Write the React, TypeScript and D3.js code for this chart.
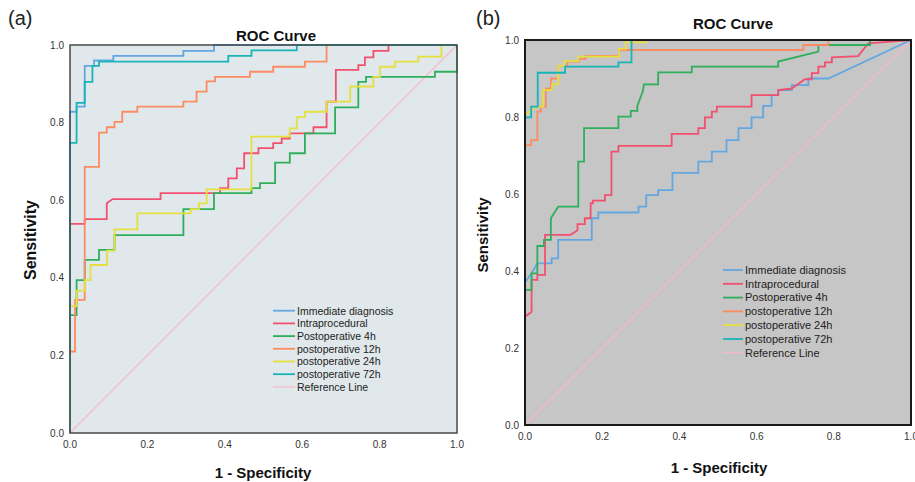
import * as d3 from 'd3'

type Pt = [number, number]

const seriesNames = [
  'Immediate diagnosis',
  'Intraprocedural',
  'Postoperative 4h',
  'postoperative 12h',
  'postoperative 24h',
  'postoperative 72h',
]
const seriesColors = ['#63a7e2', '#f2506f', '#2fae5c', '#fb8c62', '#e4e03e', '#19b4b8']
const refName = 'Reference Line'
const refColor = '#f7b9ca'
const tickValues = [0, 0.2, 0.4, 0.6, 0.8, 1]
const tickLabels = ['0.0', '0.2', '0.4', '0.6', '0.8', '1.0']

// panel (a): [1 - specificity, sensitivity]
const immediateA: Pt[] = [[0, 0], [0, 0.828], [0.017, 0.828], [0.017, 0.841], [0.038, 0.841], [0.038, 0.946], [0.062, 0.946], [0.062, 0.96], [0.112, 0.96], [0.112, 0.972], [0.293, 0.972], [0.293, 0.985], [0.372, 0.985], [0.372, 1], [1, 1]]
const intraA: Pt[] = [[0, 0], [0, 0.539], [0.038, 0.539], [0.038, 0.551], [0.095, 0.551], [0.095, 0.592], [0.11, 0.603], [0.234, 0.603], [0.234, 0.618], [0.388, 0.618], [0.388, 0.631], [0.409, 0.631], [0.409, 0.656], [0.431, 0.656], [0.431, 0.682], [0.45, 0.682], [0.45, 0.721], [0.487, 0.721], [0.487, 0.734], [0.525, 0.734], [0.525, 0.747], [0.547, 0.747], [0.547, 0.759], [0.568, 0.759], [0.568, 0.772], [0.629, 0.772], [0.629, 0.788], [0.663, 0.788], [0.663, 0.854], [0.687, 0.854], [0.687, 0.936], [0.745, 0.936], [0.745, 0.948], [0.762, 0.948], [0.762, 0.968], [0.784, 0.968], [0.784, 0.985], [0.823, 0.985], [0.823, 1], [1, 1]]
const post4A: Pt[] = [[0, 0], [0, 0.304], [0.017, 0.304], [0.017, 0.394], [0.038, 0.394], [0.038, 0.446], [0.075, 0.446], [0.075, 0.472], [0.115, 0.472], [0.115, 0.51], [0.293, 0.51], [0.293, 0.577], [0.372, 0.577], [0.372, 0.618], [0.469, 0.618], [0.469, 0.631], [0.491, 0.631], [0.491, 0.644], [0.53, 0.644], [0.53, 0.697], [0.568, 0.697], [0.568, 0.721], [0.607, 0.721], [0.607, 0.772], [0.685, 0.772], [0.685, 0.839], [0.745, 0.839], [0.745, 0.905], [0.765, 0.905], [0.765, 0.918], [0.943, 0.918], [0.943, 0.931], [1, 0.931], [1, 1]]
const post12A: Pt[] = [[0, 0], [0, 0.21], [0.013, 0.21], [0.013, 0.343], [0.038, 0.343], [0.038, 0.686], [0.075, 0.686], [0.075, 0.774], [0.095, 0.774], [0.095, 0.788], [0.115, 0.788], [0.115, 0.802], [0.135, 0.802], [0.135, 0.828], [0.174, 0.828], [0.174, 0.841], [0.293, 0.841], [0.293, 0.854], [0.327, 0.854], [0.327, 0.88], [0.353, 0.88], [0.353, 0.906], [0.375, 0.906], [0.375, 0.918], [0.465, 0.918], [0.465, 0.931], [0.525, 0.931], [0.525, 0.944], [0.607, 0.944], [0.607, 0.957], [0.663, 0.957], [0.663, 1], [1, 1]]
const post24A: Pt[] = [[0, 0], [0, 0.327], [0.017, 0.327], [0.017, 0.367], [0.038, 0.367], [0.038, 0.394], [0.053, 0.394], [0.053, 0.433], [0.096, 0.433], [0.096, 0.47], [0.115, 0.47], [0.115, 0.525], [0.174, 0.525], [0.174, 0.566], [0.312, 0.566], [0.312, 0.577], [0.333, 0.577], [0.333, 0.592], [0.353, 0.592], [0.353, 0.628], [0.469, 0.628], [0.469, 0.764], [0.568, 0.764], [0.568, 0.785], [0.586, 0.785], [0.586, 0.814], [0.607, 0.814], [0.607, 0.828], [0.663, 0.828], [0.663, 0.854], [0.724, 0.854], [0.724, 0.893], [0.784, 0.893], [0.784, 0.918], [0.801, 0.918], [0.801, 0.944], [0.84, 0.944], [0.84, 0.957], [0.9, 0.957], [0.9, 0.97], [0.96, 0.97], [0.96, 1], [1, 1]]
const post72A: Pt[] = [[0, 0], [0, 0.748], [0.017, 0.748], [0.017, 0.851], [0.038, 0.851], [0.038, 0.905], [0.058, 0.905], [0.058, 0.946], [0.075, 0.946], [0.075, 0.957], [0.409, 0.957], [0.409, 0.972], [0.469, 0.972], [0.469, 0.986], [0.586, 0.986], [0.586, 1], [1, 1]]

// panel (b)
const immediateB: Pt[] = [[0, 0], [0, 0.37], [0.017, 0.394], [0.032, 0.42], [0.069, 0.42], [0.069, 0.433], [0.086, 0.433], [0.086, 0.481], [0.173, 0.481], [0.173, 0.537], [0.19, 0.537], [0.19, 0.552], [0.294, 0.552], [0.294, 0.567], [0.314, 0.567], [0.314, 0.597], [0.345, 0.597], [0.345, 0.61], [0.382, 0.61], [0.382, 0.655], [0.449, 0.655], [0.449, 0.684], [0.484, 0.684], [0.484, 0.71], [0.522, 0.71], [0.522, 0.74], [0.553, 0.74], [0.553, 0.771], [0.587, 0.771], [0.587, 0.799], [0.617, 0.799], [0.617, 0.829], [0.639, 0.829], [0.639, 0.857], [0.656, 0.857], [0.656, 0.87], [0.691, 0.87], [0.691, 0.883], [0.734, 0.883], [0.734, 0.9], [0.786, 0.9], [1, 1]]
const intraB: Pt[] = [[0, 0], [0, 0.281], [0.017, 0.294], [0.017, 0.377], [0.032, 0.377], [0.032, 0.39], [0.052, 0.39], [0.052, 0.494], [0.118, 0.494], [0.136, 0.506], [0.136, 0.522], [0.155, 0.522], [0.155, 0.537], [0.17, 0.537], [0.17, 0.576], [0.176, 0.576], [0.176, 0.583], [0.207, 0.583], [0.207, 0.597], [0.224, 0.597], [0.224, 0.71], [0.242, 0.71], [0.242, 0.725], [0.38, 0.725], [0.38, 0.756], [0.449, 0.756], [0.449, 0.771], [0.466, 0.771], [0.466, 0.799], [0.484, 0.799], [0.484, 0.814], [0.497, 0.814], [0.497, 0.827], [0.587, 0.827], [0.587, 0.857], [0.656, 0.857], [0.656, 0.87], [0.691, 0.874], [0.725, 0.898], [0.743, 0.898], [0.743, 0.914], [0.76, 0.914], [0.76, 0.931], [0.777, 0.931], [0.777, 0.942], [0.795, 0.942], [0.795, 0.955], [0.863, 0.958], [0.889, 0.991], [1, 1]]
const post4B: Pt[] = [[0, 0], [0, 0.351], [0.017, 0.351], [0.017, 0.394], [0.032, 0.394], [0.032, 0.465], [0.049, 0.465], [0.049, 0.481], [0.067, 0.481], [0.067, 0.537], [0.086, 0.567], [0.138, 0.567], [0.138, 0.684], [0.153, 0.684], [0.153, 0.771], [0.242, 0.771], [0.242, 0.801], [0.274, 0.801], [0.274, 0.816], [0.291, 0.816], [0.291, 0.829], [0.305, 0.866], [0.308, 0.885], [0.345, 0.885], [0.345, 0.916], [0.432, 0.916], [0.432, 0.931], [0.656, 0.931], [0.656, 0.944], [0.76, 0.97], [0.76, 0.987], [0.894, 0.987], [0.894, 1], [1, 1]]
const post12B: Pt[] = [[0, 0], [0, 0.727], [0.016, 0.727], [0.016, 0.74], [0.032, 0.74], [0.032, 0.814], [0.041, 0.814], [0.041, 0.827], [0.054, 0.827], [0.054, 0.874], [0.067, 0.874], [0.067, 0.9], [0.086, 0.9], [0.086, 0.933], [0.11, 0.933], [0.11, 0.944], [0.14, 0.944], [0.14, 0.951], [0.157, 0.951], [0.157, 0.959], [0.244, 0.959], [0.244, 0.974], [0.721, 0.974], [0.721, 0.987], [0.786, 0.987], [0.786, 1], [1, 1]]
const post24B: Pt[] = [[0, 0], [0, 0.805], [0.028, 0.827], [0.047, 0.827], [0.047, 0.87], [0.07, 0.87], [0.07, 0.885], [0.086, 0.885], [0.086, 0.933], [0.101, 0.933], [0.101, 0.945], [0.138, 0.945], [0.138, 0.957], [0.244, 0.957], [0.244, 0.977], [0.261, 0.977], [0.261, 0.994], [0.313, 0.994], [0.313, 1], [1, 1]]
const post72B: Pt[] = [[0, 0], [0, 0.799], [0.016, 0.799], [0.016, 0.827], [0.033, 0.827], [0.033, 0.915], [0.104, 0.915], [0.104, 0.931], [0.242, 0.931], [0.242, 0.942], [0.276, 0.942], [0.276, 1], [1, 1]]

const refLine: Pt[] = [[0, 0], [1, 1]]

const FONT = "'Liberation Sans', Arial, sans-serif"

function RocPanel(props: any) {
  const { box, curves, bg, frame, frameW, legend, title, tag, ylab, xlab, tickFont } = props
  const x = d3.scaleLinear().domain([0, 1]).range([box.left, box.right])
  const y = d3.scaleLinear().domain([0, 1]).range([box.bottom, box.top])
  const line = d3.line<Pt>().x(d => x(d[0])).y(d => y(d[1]))
  const legendNames = [...seriesNames, refName]
  const legendColors = [...seriesColors, refColor]
  const w = box.right - box.left
  const h = box.bottom - box.top

  return (
    <g>
      <text x={tag.x} y={tag.y} fontFamily={FONT} fontSize={20} fill="#222">{tag.text}</text>
      <text x={title.x} y={title.y} textAnchor="middle" fontFamily={FONT} fontSize={15} fontWeight="bold" fill="#111">ROC Curve</text>
      <rect x={box.left} y={box.top} width={w} height={h} fill={bg} />
      {tickValues.map((t, i) => (
        <text key={'y' + i} x={box.left - 6} y={y(t) + 3.5} textAnchor="end" fontFamily={FONT} fontSize={tickFont} fill="#333">{tickLabels[i]}</text>
      ))}
      {tickValues.map((t, i) => (
        <text key={'x' + i} x={x(t)} y={box.bottom + 15} textAnchor="middle" fontFamily={FONT} fontSize={tickFont} fill="#333">{tickLabels[i]}</text>
      ))}
      <path d={line(refLine) || ''} fill="none" stroke={refColor} strokeWidth={1.2} />
      {curves.map((c: Pt[], i: number) => (
        <path key={'c' + i} d={line(c) || ''} fill="none" stroke={seriesColors[i]} strokeWidth={1.8} />
      ))}
      <rect x={box.left} y={box.top} width={w} height={h} fill="none" stroke={frame} strokeWidth={frameW} />
      {legendNames.map((n, i) => {
        const ly = legend.y + i * legend.step
        return (
          <g key={'l' + i}>
            <line x1={legend.x} x2={legend.x + legend.len} y1={ly} y2={ly} stroke={legendColors[i]} strokeWidth={i === 6 ? 1.2 : 1.8} />
            <text x={legend.x + legend.len + 2} y={ly + 3.8} fontFamily={FONT} fontSize={legend.font} fill="#222">{n}</text>
          </g>
        )
      })}
      <text transform={`translate(${ylab.x},${ylab.y}) rotate(-90)`} textAnchor="middle" fontFamily={FONT} fontSize={ylab.size} fontWeight="bold" fill="#111">Sensitivity</text>
      <text x={xlab.x} y={xlab.y} textAnchor="middle" fontFamily={FONT} fontSize={15} fontWeight="bold" fill="#111">1 - Specificity</text>
    </g>
  )
}

export default function App() {
  return (
    <svg width={915} height={482} style={{ position: 'fixed', left: 0, top: 0, background: '#fff' }}>
      <RocPanel
        box={{ left: 70, right: 457, top: 45, bottom: 433 }}
        curves={[immediateA, intraA, post4A, post12A, post24A, post72A]}
        bg="#e0e8eb"
        frame="#4a4a4a"
        frameW={1.5}
        legend={{ x: 273, y: 310.7, step: 12.7, len: 22, font: 10.5 }}
        title={{ x: 276, y: 41 }}
        tag={{ x: 8, y: 25, text: '(a)' }}
        ylab={{ x: 36, y: 240, size: 16 }}
        xlab={{ x: 263, y: 478 }}
        tickFont={10}
      />
      <RocPanel
        box={{ left: 525, right: 911, top: 40, bottom: 425 }}
        curves={[immediateB, intraB, post4B, post12B, post24B, post72B]}
        bg="#c6c6c6"
        frame="#1a1a1a"
        frameW={2}
        legend={{ x: 723, y: 270, step: 13.8, len: 20, font: 11 }}
        title={{ x: 733, y: 29 }}
        tag={{ x: 476, y: 25, text: '(b)' }}
        ylab={{ x: 488, y: 235, size: 15 }}
        xlab={{ x: 719, y: 473 }}
        tickFont={10}
      />
    </svg>
  )
}
